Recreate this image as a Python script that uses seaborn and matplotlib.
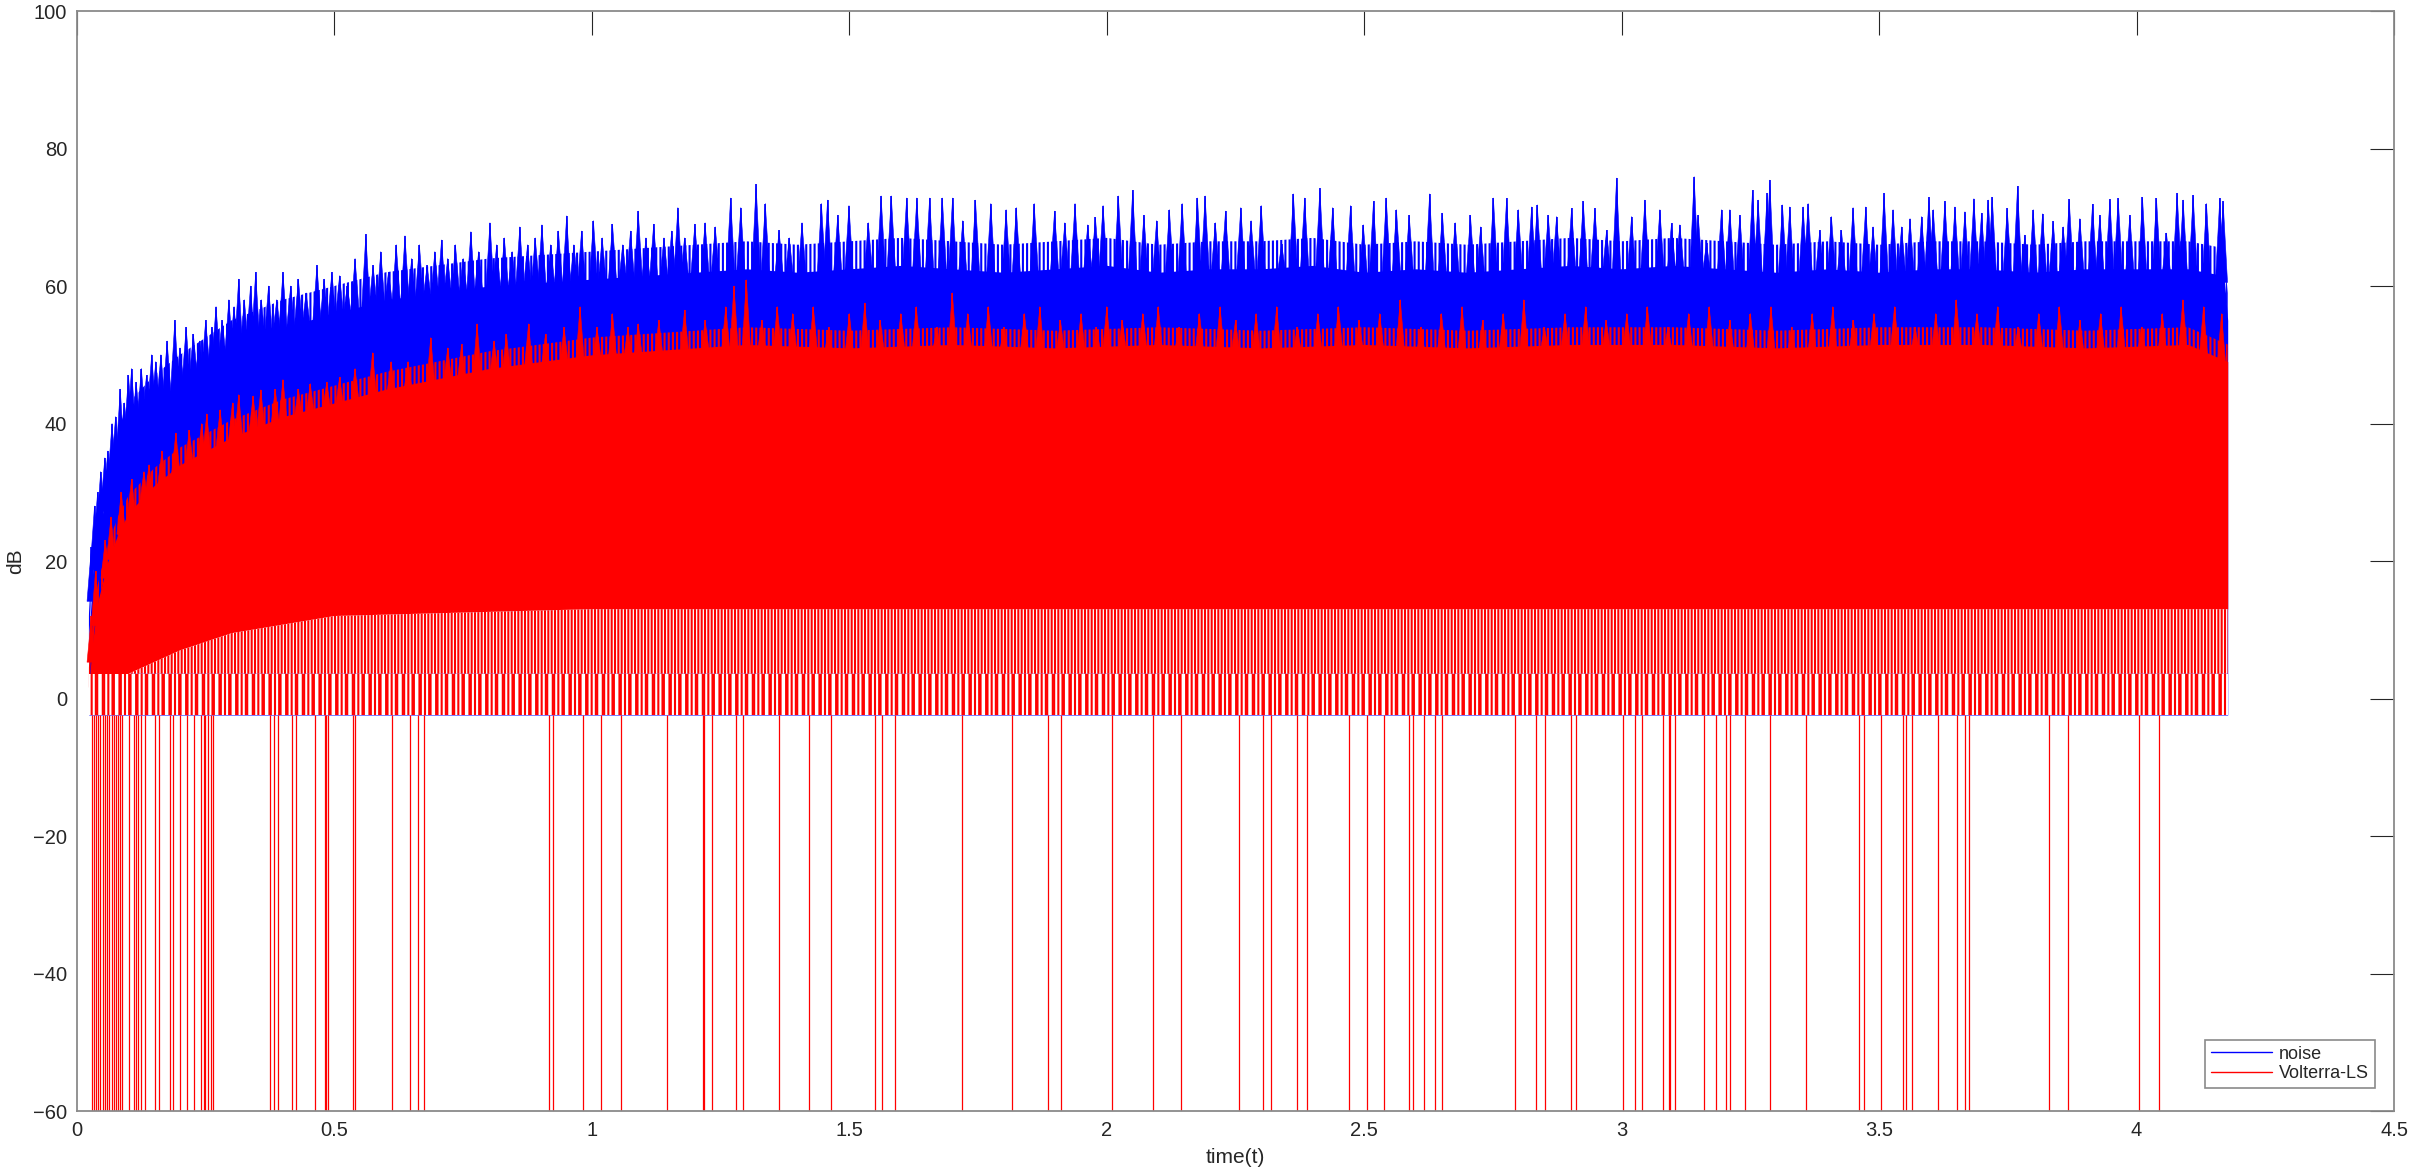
import numpy as np
import pandas as pd
import matplotlib
matplotlib.use("Agg")
import matplotlib.pyplot as plt
from matplotlib.collections import PolyCollection
import seaborn as sns

# ---- data (dB over time) ----
FLOOR_DB = -2.4          # lowest finite value of both traces
STROKE_SPLIT_DB = 3.6    # Volterra-LS strokes get sparser below this level

# top of the solid "noise" body: (time, dB)
noise_body = [
    (0.023, 8), (0.030, 18), (0.050, 27), (0.070, 33), (0.100, 39), (0.150, 43), (0.200, 46),
    (0.300, 51), (0.400, 54), (0.500, 56), (0.600, 58), (0.800, 60), (1.000, 61), (1.300, 62.5),
    (1.400, 62), (1.500, 62.5), (1.600, 63), (1.700, 62.5), (1.800, 62), (1.900, 62.5),
    (2.000, 63), (2.100, 62), (2.200, 62.5), (2.300, 62.5), (2.400, 63), (2.500, 62),
    (2.600, 62.5), (2.700, 62), (2.800, 62.5), (2.900, 63), (3.000, 62.5), (3.100, 63),
    (3.200, 62.5), (3.300, 62), (3.400, 62.5), (3.500, 62), (3.600, 62.5), (3.700, 62.5),
    (3.800, 62), (3.900, 62.5), (4.000, 62.5), (4.100, 62.5), (4.170, 61.5), (4.177, 55),
]

# needle tips of the "noise" trace above its body
noise_needles = [
    (0.028, 22), (0.034, 28), (0.040, 30), (0.046, 33), (0.054, 35), (0.060, 36), (0.068, 40),
    (0.075, 41), (0.084, 45), (0.092, 43), (0.100, 47), (0.106, 48), (0.115, 46), (0.125, 48),
    (0.135, 47), (0.145, 50), (0.153, 49), (0.163, 50), (0.175, 52), (0.190, 55), (0.200, 51),
    (0.212, 54), (0.226, 53), (0.238, 52), (0.250, 55), (0.262, 54), (0.270, 57), (0.282, 55),
    (0.295, 58), (0.305, 57), (0.314, 61), (0.325, 58), (0.337, 60), (0.347, 62), (0.358, 58),
    (0.372, 60), (0.388, 58), (0.400, 62), (0.415, 60), (0.430, 61), (0.445, 59), (0.466, 63),
    (0.480, 61), (0.495, 62), (0.510, 61.5), (0.525, 60), (0.540, 64), (0.561, 67.5), (0.575, 63),
    (0.590, 65), (0.605, 62), (0.620, 66), (0.637, 67.3), (0.650, 64), (0.665, 66), (0.680, 63),
    (0.695, 65), (0.708, 66.7), (0.720, 64), (0.735, 66), (0.750, 64), (0.765, 67.9), (0.780, 65),
    (0.802, 69.2), (0.815, 66), (0.830, 67), (0.845, 65), (0.860, 68.6), (0.875, 66), (0.890, 67),
    (0.903, 68.9), (0.920, 66), (0.935, 68), (0.951, 70.2), (0.965, 66), (0.980, 68), (1.003, 69.5),
    (1.020, 67), (1.040, 69), (1.060, 66), (1.075, 68), (1.090, 70.9), (1.105, 67), (1.120, 69),
    (1.140, 67), (1.155, 68), (1.167, 71.4), (1.180, 67), (1.200, 69),
    (1.2198, 69.2), (1.2396, 68.6), (1.2694, 72.8), (1.2892, 71.4), (1.3189, 74.8), (1.3368, 72.0),
    (1.3635, 68.1), (1.3833, 67.0), (1.4081, 69.2), (1.4458, 72.0), (1.4577, 72.5), (1.4775, 70.3),
    (1.4993, 71.7), (1.5369, 69.2), (1.5617, 73.1), (1.5815, 73.1), (1.6113, 72.8), (1.6311, 72.8),
    (1.6559, 72.8), (1.6806, 72.8), (1.7005, 72.8), (1.7203, 69.5), (1.7450, 72.5), (1.7748, 72.0),
    (1.8045, 71.1), (1.8243, 71.4), (1.8590, 72.0), (1.8986, 70.9), (1.9185, 69.2), (1.9383, 72.0),
    (1.9631, 68.9), (1.9779, 70.0), (1.9928, 71.7), (2.0225, 73.1), (2.0503, 73.9), (2.0721, 70.3),
    (2.0968, 69.5), (2.1216, 71.1), (2.1464, 72.0), (2.1761, 72.8), (2.1910, 73.1), (2.2108, 69.2),
    (2.2306, 70.9), (2.2603, 71.4), (2.2802, 69.5), (2.2999, 71.7), (2.3396, 66.1), (2.3624, 73.4),
    (2.3843, 72.8), (2.4139, 74.2), (2.4387, 71.4), (2.4734, 71.7), (2.4982, 68.9), (2.5180, 72.3),
    (2.5428, 72.8), (2.5626, 71.1), (2.5874, 70.3), (2.6270, 73.4), (2.6518, 70.6), (2.6766, 69.2),
    (2.7063, 70.3), (2.7261, 68.6), (2.7509, 72.8), (2.7766, 72.75), (2.7992, 71.1), (2.8251, 71.5),
    (2.8361, 71.8), (2.8574, 70.3), (2.8736, 70.1), (2.9027, 71.3), (2.9254, 72.3), (2.9480, 71.3),
    (2.9707, 68.1), (2.9901, 75.7), (3.0192, 70.1), (3.0451, 72.5), (3.0742, 71.1), (3.0968, 69.1),
    (3.1130, 68.9), (3.1408, 75.9), (3.1486, 70.3), (3.1648, 66.2), (3.1939, 71.1), (3.2101, 71.1),
    (3.2295, 70.3), (3.2541, 73.9), (3.2650, 72.5), (3.2825, 73.5), (3.2877, 75.4), (3.3123, 71.8),
    (3.3265, 71.5), (3.3524, 71.5), (3.3621, 72.0), (3.3847, 68.1), (3.4074, 70.1), (3.4268, 68.1),
    (3.4494, 71.4), (3.4740, 71.5), (3.4882, 68.6), (3.5096, 73.5), (3.5271, 71.1), (3.5437, 68.6),
    (3.5600, 69.8), (3.5826, 70.1), (3.5968, 72.9), (3.6052, 71.1), (3.6278, 72.3), (3.6473, 71.5),
    (3.6667, 70.8), (3.6841, 72.7), (3.6990, 70.6), (3.7119, 72.5), (3.7197, 72.9), (3.7488, 71.3),
    (3.7689, 74.5), (3.7831, 67.4), (3.7993, 71.1), (3.8174, 70.5), (3.8381, 69.4), (3.8575, 68.6),
    (3.8692, 72.6), (3.8899, 69.8), (3.9145, 71.9), (3.9287, 70.3), (3.9481, 72.6), (3.9643, 72.75),
    (3.9869, 70.3), (4.0115, 72.9), (4.0387, 72.75), (4.0581, 67.7), (4.0788, 73.5), (4.0905, 72.5),
    (4.1099, 73.2), (4.1358, 72.0), (4.1616, 72.75), (4.1681, 72.3),
]

# top of the solid "Volterra-LS" body
volterra_body = [
    (0.023, 2), (0.030, 8), (0.040, 14), (0.060, 20), (0.080, 24), (0.100, 27), (0.150, 31),
    (0.200, 34), (0.300, 38), (0.400, 41), (0.500, 43), (0.600, 45), (0.800, 48), (1.000, 50),
    (1.300, 51.5), (1.500, 51), (1.700, 51.5), (1.900, 51), (2.100, 51.5), (2.300, 51),
    (2.500, 51.5), (2.700, 51), (2.900, 51.5), (3.100, 51.5), (3.300, 51), (3.500, 51.5),
    (3.700, 51.5), (3.900, 51), (4.100, 51.5), (4.177, 49),
]

# needle tips of the "Volterra-LS" trace above its body
volterra_needles = [
    (0.028, 12), (0.036, 18.5), (0.055, 23), (0.066, 26.4), (0.086, 30), (0.106, 31.9), (0.130, 33),
    (0.140, 34), (0.165, 36), (0.192, 38.6), (0.218, 39), (0.242, 40), (0.252, 41.4), (0.278, 42),
    (0.302, 43), (0.314, 44.2), (0.342, 44), (0.357, 44.9), (0.385, 45), (0.400, 46.4), (0.430, 45),
    (0.453, 45.8), (0.485, 46), (0.510, 46.7), (0.540, 48), (0.574, 50.3), (0.610, 49), (0.643, 49),
    (0.687, 52.5), (0.720, 51), (0.747, 51.5), (0.777, 54.5), (0.810, 52), (0.834, 53), (0.877, 54.5),
    (0.910, 53), (0.946, 54), (0.977, 57), (1.010, 54), (1.040, 56), (1.070, 54), (1.090, 54.5),
    (1.130, 55), (1.180, 56.5), (1.220, 55), (1.260, 57), (1.276, 60), (1.300, 60.9), (1.330, 55),
    (1.360, 57), (1.390, 56), (1.430, 57), (1.460, 54), (1.500, 56), (1.530, 57.5), (1.560, 55),
    (1.600, 56), (1.630, 57), (1.670, 54), (1.700, 59), (1.730, 56), (1.770, 57), (1.800, 54),
    (1.840, 56), (1.870, 57), (1.910, 55), (1.950, 56), (1.980, 54), (2.000, 57), (2.030, 55),
    (2.070, 56), (2.100, 57), (2.140, 54), (2.180, 56), (2.220, 57), (2.250, 55), (2.290, 56),
    (2.330, 57), (2.370, 54), (2.410, 56), (2.450, 57), (2.490, 55), (2.530, 56), (2.570, 58),
    (2.610, 54), (2.650, 56), (2.690, 57), (2.730, 55), (2.770, 56), (2.810, 58), (2.850, 54),
    (2.890, 56), (2.930, 57), (2.970, 55), (3.010, 56), (3.050, 57), (3.090, 54), (3.130, 56),
    (3.170, 57), (3.210, 55), (3.250, 56), (3.290, 57), (3.330, 54), (3.370, 56), (3.410, 57),
    (3.450, 55), (3.490, 56), (3.530, 57), (3.570, 54), (3.610, 56), (3.650, 58), (3.690, 56),
    (3.730, 57), (3.770, 54), (3.810, 56), (3.850, 57), (3.890, 55), (3.930, 56), (3.970, 57),
    (4.010, 54), (4.050, 56), (4.090, 58), (4.130, 57), (4.165, 56),
]

# level below which the Volterra-LS trace breaks into separate strokes
volterra_solid_floor = [(0.023, 3.6), (0.10, 3.6), (0.20, 7), (0.30, 9.5), (0.50, 12),
                        (1.00, 13), (4.177, 13)]

# times where the Volterra-LS trace drops to -inf (off the bottom of the axes)
volterra_dropouts = [
    0.030, 0.033, 0.036, 0.040, 0.045, 0.050, 0.055, 0.059, 0.063, 0.068, 0.072, 0.076, 0.080,
    0.084, 0.088, 0.1019, 0.1105, 0.1152, 0.1185, 0.1239, 0.1319, 0.1518, 0.1598, 0.1798, 0.1864,
    0.1991, 0.2131, 0.2270, 0.2417, 0.2463, 0.2490, 0.2543, 0.2603, 0.2650, 0.3755, 0.3835, 0.3901,
    0.4181, 0.4248, 0.4620, 0.4807, 0.4834, 0.4880, 0.5353, 0.5393, 0.6119, 0.6458, 0.6631, 0.6744,
    0.9174, 0.9254, 0.9820, 1.0186, 1.0573, 1.1467, 1.2153, 1.2180, 1.2333, 1.2807, 1.2940, 1.3627,
    1.4213, 1.4653, 1.5507, 1.5627, 1.5893, 1.7187, 1.8167, 1.8867, 1.9113, 2.0107, 2.0907, 2.1447,
    2.2567, 2.3040, 2.3193, 2.3687, 2.3880, 2.4713, 2.5047, 2.5393, 2.5867, 2.5947, 2.6167, 2.6380,
    2.6513, 2.7927, 2.8333, 2.8520, 2.9013, 2.9113, 3.0033, 3.0267, 3.0400, 3.0793, 3.0920, 3.0940,
    3.1040, 3.1600, 3.1840, 3.2033, 3.2113, 3.2393, 3.2873, 3.3580, 3.4607, 3.4700, 3.5033, 3.5473,
    3.5513, 3.5640, 3.6153, 3.6507, 3.6660, 3.6740, 3.8300, 3.8667, 4.0047, 4.0427,
]

series_names = ["noise", "Volterra-LS"]
x_ticks = [0, 0.5, 1, 1.5, 2, 2.5, 3, 3.5, 4, 4.5]
x_tick_labels = ["0", "0.5", "1", "1.5", "2", "2.5", "3", "3.5", "4", "4.5"]
y_ticks = [-60, -40, -20, 0, 20, 40, 60, 80, 100]

# ---- style ----
sns.set_style("white")
plt.rcParams["font.family"] = ["Liberation Sans", "DejaVu Sans"]
plt.rcParams["hatch.linewidth"] = 1.5

BLUE = "#0000ff"
RED = "#ff0000"
AX_GRAY = "#8a8a8a"
TXT = "#262626"
SPIKE_HALF_W = 0.0085   # half base width of a needle, in seconds


def unzip(pairs):
    t, v = zip(*pairs)
    return np.array(t), np.array(v)


def needle_polys(tips_t, tips_v, base):
    return [[(t - SPIKE_HALF_W, b), (t, v), (t + SPIKE_HALF_W, b)]
            for t, v, b in zip(tips_t, tips_v, base)]


nb_t, nb_v = unzip(noise_body)
nn_t, nn_v = unzip(noise_needles)
vb_t, vb_v = unzip(volterra_body)
vn_t, vn_v = unzip(volterra_needles)
sf_t, sf_v = unzip(volterra_solid_floor)

fig = plt.figure(figsize=(24.17, 11.74), dpi=100)
ax = fig.add_axes([0.03186, 0.05366, 0.95863, 0.93697])

# noise trace: solid body, ragged fringe, needles
ax.fill_between(nb_t, FLOOR_DB, nb_v, color=BLUE, lw=0, zorder=1)
ax.fill_between(nb_t, nb_v - 0.5, nb_v + 4.0, facecolor="none", edgecolor=BLUE,
                hatch="||||", lw=0, zorder=1)
nb_on_nn = np.interp(nn_t, nb_t, nb_v)
ax.add_collection(PolyCollection(needle_polys(nn_t, nn_v, nb_on_nn - 1),
                                 facecolor=BLUE, edgecolor=BLUE, lw=0.4, zorder=1))
ax.vlines(nn_t, nb_on_nn - 1, nn_v, color=BLUE, lw=1.2, zorder=1)

# Volterra-LS trace
solid_lo = np.interp(vb_t, sf_t, sf_v)
ax.fill_between(vb_t, solid_lo, vb_v, color=RED, lw=0, zorder=2)
ax.fill_between(vb_t, vb_v - 0.5, vb_v + 2.5, facecolor="none", edgecolor=RED,
                hatch="||||", lw=0, zorder=2)
vb_on_vn = np.interp(vn_t, vb_t, vb_v)
ax.add_collection(PolyCollection(needle_polys(vn_t, vn_v, vb_on_vn - 1),
                                 facecolor=RED, edgecolor=RED, lw=0.4, zorder=2))
ax.vlines(vn_t, vb_on_vn - 1, vn_v, color=RED, lw=1.2, zorder=2)
# lower part: separate strokes, sparser near the floor
split = np.minimum(STROKE_SPLIT_DB, solid_lo)
ax.fill_between(vb_t, split, solid_lo, facecolor="white", edgecolor=RED,
                hatch="|||||", lw=0, zorder=2)
ax.fill_between(vb_t, FLOOR_DB, split, facecolor="white", edgecolor=RED,
                hatch="||", lw=0, zorder=2)
ax.fill_between(vb_t, FLOOR_DB, split, facecolor="none", edgecolor=RED,
                hatch="|||", lw=0, zorder=2)
# dropouts to -inf
ax.vlines(volterra_dropouts, -60, FLOOR_DB, color=RED, lw=0.9, zorder=3)

# legend entries through seaborn
legend_df = pd.DataFrame({"time": [np.nan, np.nan], "dB": [np.nan, np.nan],
                          "series": series_names})
sns.lineplot(data=legend_df, x="time", y="dB", hue="series", hue_order=series_names,
             palette=[BLUE, RED], ax=ax, lw=1.0)

ax.set_xlim(0, 4.5)
ax.set_ylim(-60, 100)
ax.set_xticks(x_ticks)
ax.set_xticklabels(x_tick_labels)
ax.set_yticks(y_ticks)
ax.tick_params(direction="in", length=17, width=0.8, color=TXT, labelcolor=TXT,
               labelsize=14.5, top=True, right=True, pad=7)
for s in ax.spines.values():
    s.set_color(AX_GRAY)
    s.set_linewidth(1.3)
    s.set_visible(True)
    s.set_zorder(5)
ax.set_xlabel("time(t)", fontsize=15, color=TXT, labelpad=6)
ax.set_ylabel("dB", fontsize=15, color=TXT, labelpad=6)

leg = ax.legend(loc="lower right", fontsize=13, frameon=True, fancybox=False,
                edgecolor=AX_GRAY, framealpha=1, handlelength=3.4, borderpad=0.3,
                labelspacing=0.15, handletextpad=0.4, bbox_to_anchor=(0.9955, 0.013))
leg.get_frame().set_linewidth(1.2)
for line in leg.get_lines():
    line.set_linewidth(1.0)
for txt in leg.get_texts():
    txt.set_color(TXT)

fig.savefig("out.png", dpi=100, facecolor="white")
